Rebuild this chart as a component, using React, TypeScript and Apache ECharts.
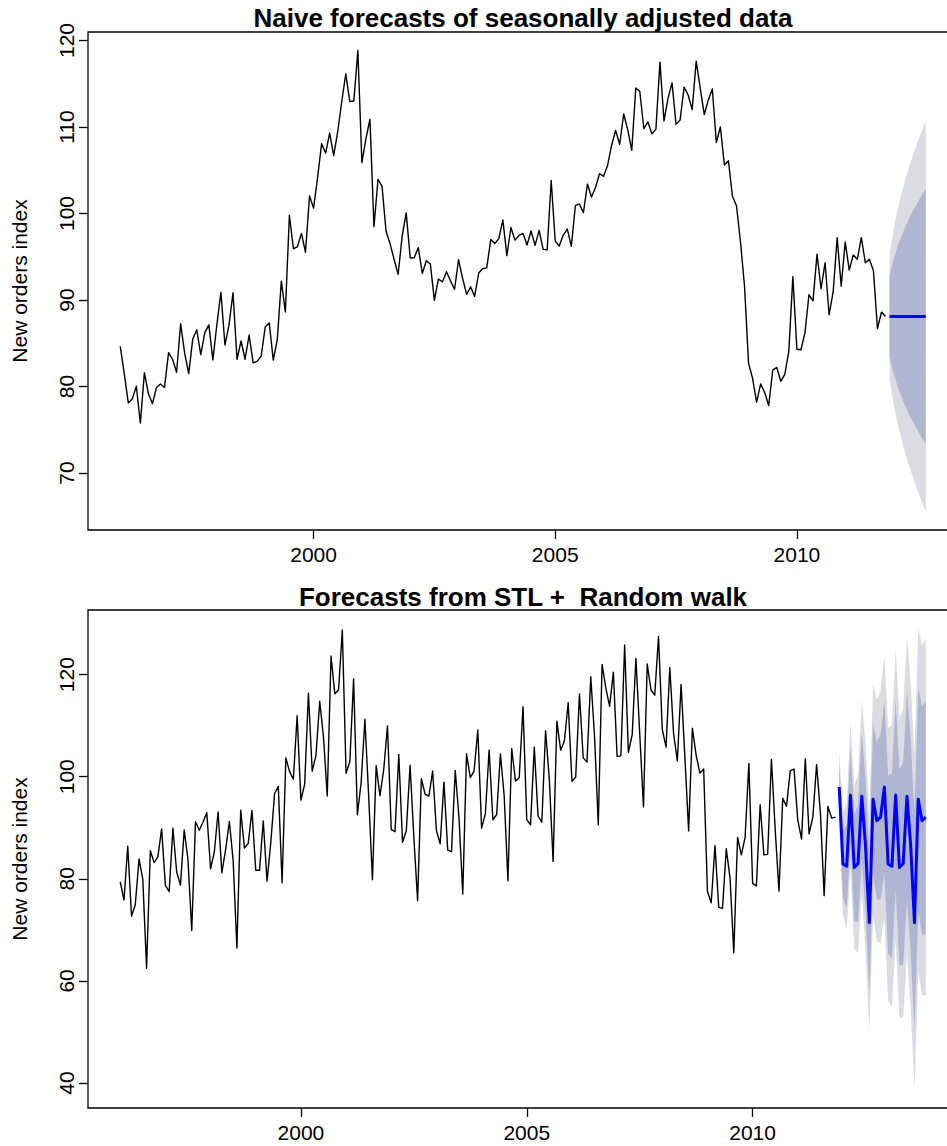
import React, { useEffect, useRef } from "react";
import * as echarts from "echarts";

const START_YEAR = 1996;
const FONT = "'Liberation Sans', Arial, Helvetica, sans-serif";

// Electrical equipment new orders index (monthly, Jan 1996 - Nov 2011)
const elecequip: number[] = [
  79.43, 75.86, 86.4, 72.67, 74.93, 83.88, 79.88, 62.47, 85.5, 83.19, 84.29, 89.79,
  78.72, 77.49, 89.94, 81.35, 78.76, 89.59, 83.75, 69.87, 91.18, 89.52, 91.12, 92.97,
  81.97, 85.26, 93.09, 81.19, 85.74, 91.24, 83.56, 66.45, 93.45, 86.03, 86.91, 93.42,
  81.68, 81.68, 91.35, 79.55, 87.08, 96.71, 98.1, 79.22, 103.68, 101.0, 99.52, 111.94,
  95.42, 98.49, 116.37, 101.09, 104.2, 114.79, 107.75, 96.23, 123.65, 116.24, 117.0, 128.75,
  100.69, 102.99, 119.21, 92.56, 98.86, 111.26, 96.25, 79.81, 102.18, 96.28, 101.38, 109.97,
  89.66, 89.23, 104.36, 87.17, 89.43, 102.25, 88.26, 75.73, 99.6, 96.57, 96.22, 101.12,
  89.45, 86.87, 98.94, 85.62, 85.31, 101.22, 91.93, 77.01, 104.5, 99.83, 101.1, 109.16,
  89.93, 92.73, 105.22, 91.56, 92.6, 104.46, 96.28, 79.61, 105.55, 99.15, 99.81, 113.72,
  91.6, 90.6, 105.8, 92.3, 91.1, 109.0, 99.4, 83.4, 110.9, 105.2, 107.0, 114.5,
  99.1, 99.9, 116.2, 103.7, 102.9, 119.6, 108.0, 90.6, 122.0, 117.4, 113.8, 120.5,
  104.0, 104.1, 125.8, 104.8, 108.2, 123.2, 108.6, 94.1, 122.1, 117.0, 116.0, 127.5,
  109.3, 105.8, 121.4, 108.5, 103.1, 118.1, 103.9, 89.4, 109.5, 104.2, 100.7, 101.5,
  77.5, 75.3, 86.5, 74.4, 74.2, 85.9, 80.2, 65.5, 88.1, 84.7, 88.1, 102.6,
  79.1, 78.6, 94.5, 84.7, 84.8, 103.4, 89.6, 77.6, 95.8, 94.2, 101.2, 101.5,
  91.5, 87.8, 103.5, 88.8, 92.1, 102.4, 93.0, 76.7, 94.2, 91.9, 92.1,
];

// Seasonally adjusted series (same months)
const seasadj: number[] = [
  84.63, 81.51, 78.1, 78.57, 80.03, 75.78, 81.58, 79.17, 78.0, 79.89, 80.29, 79.89,
  83.92, 83.14, 81.64, 87.25, 83.86, 81.49, 85.45, 86.57, 83.68, 86.22, 87.12, 83.07,
  87.17, 90.91, 84.79, 87.09, 90.84, 83.14, 85.26, 83.15, 85.95, 82.73, 82.91, 83.52,
  86.88, 87.33, 83.05, 85.45, 92.18, 88.61, 99.8, 95.92, 96.18, 97.7, 95.52, 102.04,
  100.62, 104.14, 108.07, 106.99, 109.3, 106.69, 109.45, 112.93, 116.15, 112.94, 113.0, 118.85,
  105.89, 108.64, 110.91, 98.46, 103.96, 103.16, 97.95, 96.51, 94.68, 92.98, 97.38, 100.07,
  94.86, 94.88, 96.06, 93.07, 94.53, 94.15, 89.96, 92.43, 92.1, 93.27, 92.22, 91.22,
  94.65, 92.52, 90.64, 91.52, 90.41, 93.12, 93.63, 93.71, 97.0, 96.53, 97.1, 99.26,
  95.13, 98.38, 96.92, 97.46, 97.7, 96.36, 97.98, 96.31, 98.05, 95.85, 95.81, 103.82,
  96.8, 96.25, 97.5, 98.2, 96.2, 100.9, 101.1, 100.1, 103.4, 101.9, 103.0, 104.6,
  104.3, 105.55, 107.9, 109.6, 108.0, 111.5, 109.7, 107.3, 114.5, 114.1, 109.8, 110.6,
  109.2, 109.75, 117.5, 110.7, 113.3, 115.1, 110.3, 110.8, 114.6, 113.7, 112.0, 117.6,
  114.5, 111.45, 113.1, 114.4, 108.2, 110.0, 105.6, 106.1, 102.0, 100.9, 96.7, 91.6,
  82.7, 80.95, 78.2, 80.3, 79.3, 77.8, 81.9, 82.2, 80.6, 81.4, 84.1, 92.7,
  84.3, 84.25, 86.2, 90.6, 89.9, 95.3, 91.3, 94.3, 88.3, 90.9, 97.2, 91.6,
  96.7, 93.45, 95.2, 94.7, 97.2, 94.3, 94.7, 93.4, 86.7, 88.6, 88.1,
];

// Naive forecasts (Dec 2011 - Sep 2012)
const naiveMean = [88.1, 88.1, 88.1, 88.1, 88.1, 88.1, 88.1, 88.1, 88.1, 88.1];
const naiveLo80 = [83.43, 81.5, 80.02, 78.77, 77.67, 76.67, 75.76, 74.91, 74.1, 73.35];
const naiveHi80 = [92.77, 94.7, 96.18, 97.43, 98.53, 99.53, 100.44, 101.29, 102.1, 102.85];
const naiveLo95 = [80.97, 78.01, 75.74, 73.83, 72.15, 70.63, 69.22, 67.92, 66.7, 65.54];
const naiveHi95 = [95.23, 98.19, 100.46, 102.37, 104.05, 105.57, 106.98, 108.28, 109.5, 110.66];

// STL + random walk forecasts (Dec 2011 - Nov 2013)
const stlMean = [
  98.0, 82.9, 82.45, 96.4, 82.2, 83.0, 96.2, 86.4, 71.4, 95.6, 91.4, 92.1,
  98.0, 82.9, 82.45, 96.4, 82.2, 83.0, 96.2, 86.4, 71.4, 95.6, 91.4, 92.1,
];
const stlLo80 = [
  93.33, 76.3, 74.37, 87.07, 71.77, 71.57, 83.86, 73.21, 57.4, 80.85, 75.93, 75.94,
  81.18, 65.44, 64.38, 77.74, 62.97, 63.21, 75.87, 65.54, 50.02, 73.72, 69.03, 69.25,
];
const stlHi80 = [
  102.67, 89.5, 90.53, 105.73, 92.63, 94.43, 108.54, 99.59, 85.4, 110.35, 106.87, 108.26,
  114.82, 100.36, 100.52, 115.06, 101.43, 102.79, 116.53, 107.26, 92.78, 117.48, 113.77, 114.95,
];
const stlLo95 = [
  90.87, 72.81, 70.09, 82.13, 66.25, 65.53, 77.32, 66.22, 50.0, 73.04, 67.74, 67.39,
  72.28, 56.21, 54.82, 67.86, 52.79, 52.73, 65.1, 54.5, 38.71, 62.14, 57.19, 57.15,
];
const stlHi95 = [
  105.13, 92.99, 94.81, 110.67, 98.15, 100.47, 115.08, 106.58, 92.8, 118.16, 115.06, 116.81,
  123.72, 109.59, 110.08, 124.94, 111.61, 113.27, 127.3, 118.3, 104.09, 129.06, 125.61, 127.05,
];

const xTicks = [2000, 2005, 2010];
const yTicksTop = [70, 80, 90, 100, 110, 120];
const yTicksBottom = [40, 60, 80, 100, 120];

const titleTop = "Naive forecasts of seasonally adjusted data";
const titleBottom = "Forecasts from STL +  Random walk";
const yName = "New orders index";

const COL80 = "#B0B5D2";
const COL95 = "#DBDBE2";
const LABEL_SIZE = 21;

export default function App() {
  const ref = useRef<HTMLDivElement>(null);

  useEffect(() => {
    const el = ref.current;
    if (!el) return;
    const chart = echarts.init(el, undefined, { renderer: "svg" });

    const n = elecequip.length;
    const t = (i: number) => START_YEAR + i / 12;
    const pts = (vals: number[], off: number) => vals.map((v, k) => [t(off + k), v]);

    const band = (g: number, lo: number[], hi: number[], color: string) => ({
      type: "custom",
      coordinateSystem: "cartesian2d",
      xAxisIndex: g,
      yAxisIndex: g,
      silent: true,
      z: 1,
      clip: false,
      data: [[t(n), lo[0]]],
      encode: { x: 0, y: 1 },
      renderItem: (_params: any, api: any) => {
        const upper = hi.map((v, k) => api.coord([t(n + k), v]));
        const lower = lo.map((v, k) => api.coord([t(n + k), v])).reverse();
        return {
          type: "polygon",
          shape: { points: upper.concat(lower) },
          style: { fill: color, stroke: null },
        };
      },
    });

    const xAxis = (g: number, min: number, max: number) => ({
      type: "value",
      gridIndex: g,
      min,
      max,
      axisLine: { show: false },
      splitLine: { show: false },
      axisTick: {
        show: true,
        customValues: xTicks,
        length: 9,
        lineStyle: { color: "#000", width: 1.3 },
      },
      axisLabel: {
        show: true,
        customValues: xTicks,
        margin: 14,
        fontSize: LABEL_SIZE,
        color: "#000",
        fontFamily: FONT,
        formatter: (v: number) => String(v),
      },
    });

    const yAxis = (g: number, min: number, max: number, ticks: number[]) => ({
      type: "value",
      gridIndex: g,
      min,
      max,
      axisLine: { show: false },
      splitLine: { show: false },
      axisTick: {
        show: true,
        customValues: ticks,
        length: 9,
        lineStyle: { color: "#000", width: 1.3 },
      },
      axisLabel: {
        show: true,
        customValues: ticks,
        rotate: 90,
        margin: 11,
        fontSize: LABEL_SIZE,
        color: "#000",
        fontFamily: FONT,
        formatter: (v: number) => String(v),
      },
    });

    const gridBase = {
      left: 88,
      width: 870,
      height: 498,
      show: true,
      borderColor: "#000",
      borderWidth: 1.3,
      backgroundColor: "transparent",
      containLabel: false,
    };

    chart.setOption({
      animation: false,
      grid: [
        { ...gridBase, top: 32 },
        { ...gridBase, top: 610 },
      ],
      xAxis: [xAxis(0, 1995.3333, 2013.3333), xAxis(1, 1995.2867, 2014.5467)],
      yAxis: [yAxis(0, 63.41, 120.98, yTicksTop), yAxis(1, 35.1, 132.67, yTicksBottom)],
      series: [
        band(0, naiveLo95, naiveHi95, COL95),
        band(0, naiveLo80, naiveHi80, COL80),
        {
          type: "line",
          xAxisIndex: 0,
          yAxisIndex: 0,
          data: pts(seasadj, 0),
          symbol: "none",
          silent: true,
          lineStyle: { color: "#000", width: 1.4, join: "round" },
          z: 3,
        },
        {
          type: "line",
          xAxisIndex: 0,
          yAxisIndex: 0,
          data: pts(naiveMean, n),
          symbol: "none",
          silent: true,
          lineStyle: { color: "#0000FF", width: 3, join: "round" },
          z: 4,
        },
        band(1, stlLo95, stlHi95, COL95),
        band(1, stlLo80, stlHi80, COL80),
        {
          type: "line",
          xAxisIndex: 1,
          yAxisIndex: 1,
          data: pts(elecequip, 0),
          symbol: "none",
          silent: true,
          lineStyle: { color: "#000", width: 1.4, join: "round" },
          z: 3,
        },
        {
          type: "line",
          xAxisIndex: 1,
          yAxisIndex: 1,
          data: pts(stlMean, n),
          symbol: "none",
          silent: true,
          lineStyle: { color: "#0000FF", width: 3, join: "round" },
          z: 4,
        },
      ],
      graphic: [
        {
          type: "text",
          x: 523,
          y: 18,
          style: {
            text: titleTop,
            font: `bold 26px ${FONT}`,
            fill: "#000",
            textAlign: "center",
            textVerticalAlign: "middle",
          },
        },
        {
          type: "text",
          x: 523,
          y: 597,
          style: {
            text: titleBottom,
            font: `bold 26px ${FONT}`,
            fill: "#000",
            textAlign: "center",
            textVerticalAlign: "middle",
          },
        },
        {
          type: "text",
          x: 19,
          y: 281,
          rotation: Math.PI / 2,
          style: {
            text: yName,
            font: `${LABEL_SIZE}px ${FONT}`,
            fill: "#000",
            textAlign: "center",
            textVerticalAlign: "middle",
          },
        },
        {
          type: "text",
          x: 19,
          y: 859,
          rotation: Math.PI / 2,
          style: {
            text: yName,
            font: `${LABEL_SIZE}px ${FONT}`,
            fill: "#000",
            textAlign: "center",
            textVerticalAlign: "middle",
          },
        },
      ],
    });

    return () => chart.dispose();
  }, []);

  return (
    <div
      style={{
        position: "absolute",
        left: 0,
        top: 0,
        width: 947,
        height: 1146,
        overflow: "hidden",
        background: "#fff",
      }}
    >
      <div ref={ref} style={{ width: 1000, height: 1146 }} />
    </div>
  );
}
